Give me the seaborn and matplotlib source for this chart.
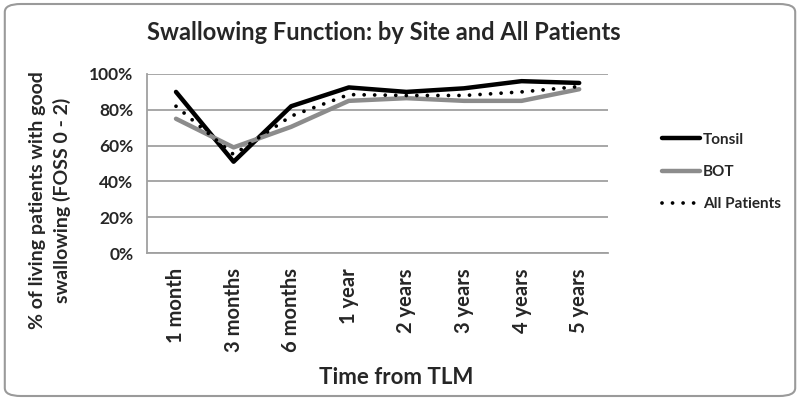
import pandas as pd
import seaborn as sns
import matplotlib.pyplot as plt
from matplotlib.ticker import PercentFormatter
from matplotlib.patches import FancyBboxPatch
from matplotlib.lines import Line2D

times = ["1 month", "3 months", "6 months", "1 year", "2 years", "3 years", "4 years", "5 years"]
tonsil = [90, 51, 82, 92.5, 90, 92, 96, 95]
bot = [75, 59, 70.5, 85, 86.5, 85, 85, 91.5]
all_patients = [82, 55, 76.5, 88.5, 88, 88, 90, 93]

rows = []
for name, vals in [("Tonsil", tonsil), ("BOT", bot), ("All Patients", all_patients)]:
    for t, v in zip(times, vals):
        rows.append({"Time": t, "Value": v, "Group": name})
df = pd.DataFrame(rows)

sns.set_style("white")
plt.rcParams["font.family"] = ["Lato", "DejaVu Sans"]
plt.rcParams["font.weight"] = "bold"

grey = "#8c8c8c"
dots = (0.01, 2.8)

fig = plt.figure(figsize=(8, 4), dpi=100)
ax = fig.add_axes([0.184, 0.3675, 0.576, 0.4475])

sns.lineplot(data=df, x="Time", y="Value", hue="Group", style="Group",
             palette={"Tonsil": "black", "BOT": grey, "All Patients": "black"},
             dashes={"Tonsil": "", "BOT": "", "All Patients": dots},
             sort=False, ax=ax, legend=False)
lws = {0: 3.2, 1: 3.2, 2: 2.7}
for i, line in enumerate(ax.get_lines()):
    line.set_linewidth(lws.get(i, 2))
    if i == 2:
        line.set_dash_capstyle("round")

ax.set_xlim(-0.5, 7.5)
ax.set_ylim(0, 100)
ax.set_yticks(range(0, 101, 20))
ax.yaxis.set_major_formatter(PercentFormatter(decimals=0))
ax.grid(axis="y", color="#a0a0a0", lw=1.3)
ax.set_axisbelow(True)
for s in ["top", "right"]:
    ax.spines[s].set_visible(False)
for s in ["left", "bottom"]:
    ax.spines[s].set_color("#a0a0a0")
    ax.spines[s].set_linewidth(1.3)

ax.set_xticks(range(len(times)))
ax.set_xticklabels(times, rotation=90, fontsize=14.5, fontweight="bold")
ax.set_xticks([7.5], minor=True)
ax.tick_params(axis="x", which="both", length=5, color="#a0a0a0", width=1.3, pad=6)
ax.tick_params(axis="y", length=0, labelsize=12.5, pad=10)
for lab in ax.get_yticklabels():
    lab.set_fontweight("bold")

ax.set_xlabel("")
ax.set_ylabel("")
fig.text(0.495, 0.055, "Time from TLM", ha="center", va="center", fontsize=16, fontweight="bold")
fig.text(0.0625, 0.5, "% of living patients with good\nswallowing (FOSS 0 - 2)", rotation=90,
         ha="center", va="center", fontsize=14, fontweight="bold", linespacing=1.5)
fig.text(0.48, 0.92, "Swallowing Function: by Site and All Patients",
         ha="center", va="center", fontsize=17, fontweight="bold")

handles = [Line2D([], [], color="black", lw=3.2),
           Line2D([], [], color=grey, lw=3.2),
           Line2D([], [], color="black", lw=2.7, ls=(0, dots), dash_capstyle="round")]
fig.legend(handles, ["Tonsil", "BOT", "All Patients"], loc="center left",
           bbox_to_anchor=(0.81, 0.57), frameon=False, handlelength=2.5,
           labelspacing=1.2, prop={"weight": "bold", "size": 11}, handletextpad=0.2)

fig.patches.append(FancyBboxPatch((0.006, 0.01), 0.988, 0.98, boxstyle="round,pad=0,rounding_size=0.02",
                                  transform=fig.transFigure, fill=False, ec="#9a9a9a", lw=1.5))

fig.savefig("out.png", dpi=100)
